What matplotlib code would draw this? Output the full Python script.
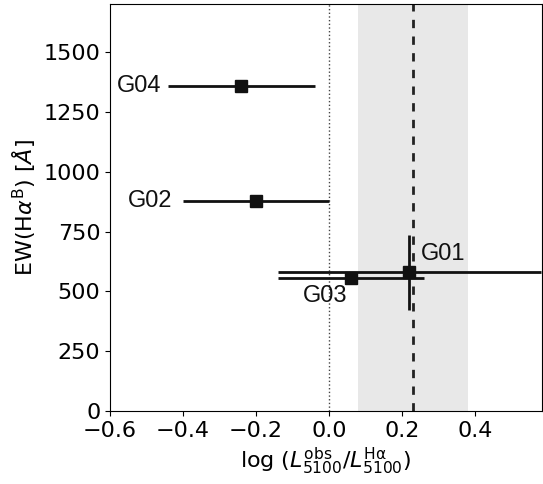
import matplotlib
matplotlib.use("Agg")
import matplotlib.pyplot as plt

# Source measurements
names = ["G01", "G02", "G03", "G04"]
log_ratio = [0.22, -0.20, 0.06, -0.24]
log_ratio_err = [0.36, 0.20, 0.20, 0.20]
ew_b = [580, 877, 556, 1358]
ew_b_err = [157, 0, 0, 0]

# Mean ratio and its spread
mean_ratio = 0.23
mean_spread = 0.15

label_offsets = {"G01": (0.091, 76), "G02": (-0.291, 0), "G03": (-0.071, -75), "G04": (-0.281, 0)}

fig = plt.figure(figsize=(5.43, 4.84), dpi=100)
ax = fig.add_axes([0.2026, 0.151, 0.795, 0.84])

ax.axvspan(mean_ratio - mean_spread, mean_ratio + mean_spread, color="#e8e8e8", zorder=0, lw=0)
ax.axvline(mean_ratio, color="#222222", ls=(0, (3, 3)), lw=2, zorder=1)
ax.axvline(0.0, color="#444444", ls=":", lw=1, zorder=1)

for n, x, xe, y, ye in zip(names, log_ratio, log_ratio_err, ew_b, ew_b_err):
    ax.errorbar(x, y, xerr=xe, yerr=ye if ye > 0 else None, fmt="s", color="#111111",
                ms=8, lw=2, capsize=0, zorder=3)
    dx, dy = label_offsets[n]
    ax.text(x + dx, y + dy, n, fontsize=17, family=["Liberation Sans", "DejaVu Sans"],
            ha="center", va="center", color="#111111")

ax.set_xlim(-0.6, 0.582)
ax.set_ylim(0, 1700)
ax.set_xticks([-0.6, -0.4, -0.2, 0.0, 0.2, 0.4])
ax.set_yticks([0, 250, 500, 750, 1000, 1250, 1500])
ax.tick_params(labelsize=16)
ax.set_xlabel(r"log ($L_{5100}^{\rm obs}/L_{5100}^{\rm H\alpha}$)", fontsize=16)
ax.set_ylabel(r"EW(H$\alpha^{\rm B}$) [$Å$]", fontsize=16)

fig.savefig("out.png", dpi=100)
